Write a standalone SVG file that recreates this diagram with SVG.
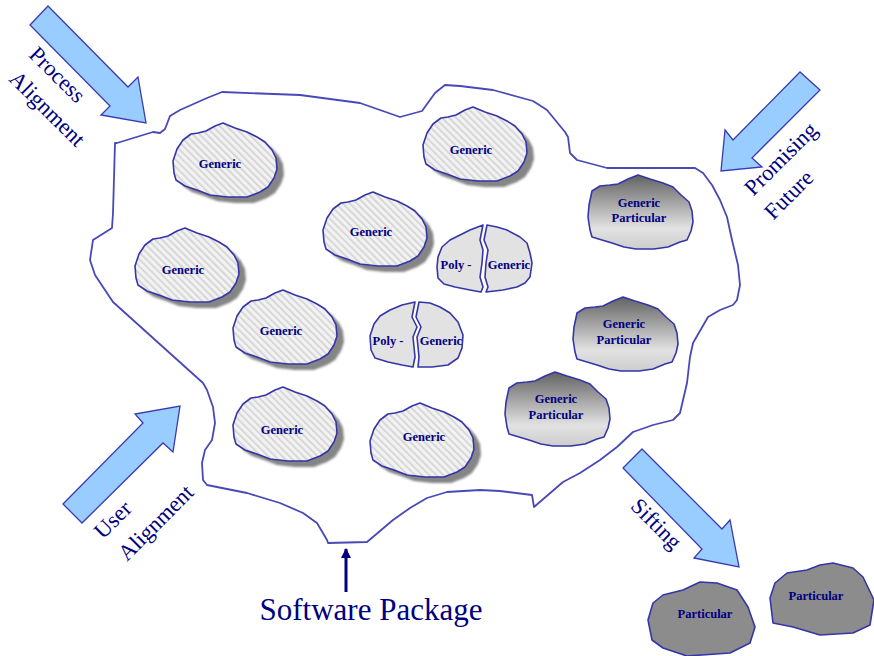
<svg xmlns="http://www.w3.org/2000/svg" width="874" height="656" viewBox="0 0 874 656">
  <style>
    .rk { stroke:#3535a8; stroke-width:1.6; stroke-linejoin:round; }
    .hatch { fill:url(#hatch); }
    .shadow { fill:#858585; filter:url(#soft); }
    .poly { fill:#e2e2e2; }
    .gp { fill:url(#gpGrad); }
    .pt { fill:#8c8c8c; }
    .rt { font-family:"Liberation Serif","Times New Roman",serif; font-weight:bold; font-size:12.5px; fill:#000080; text-anchor:middle; }
    .lb { font-family:"Liberation Serif","Times New Roman",serif; font-size:22.5px; fill:#000080; text-anchor:middle; }
    .blk { fill:#99ccff; stroke:#3a3ab0; stroke-width:1.3; stroke-linejoin:miter; }
    .pkg { fill:none; stroke:#4848b8; stroke-width:1.8; stroke-linejoin:round; }
  </style>
  <defs>
    <pattern id="hatch" width="5" height="5" patternUnits="userSpaceOnUse" patternTransform="rotate(-45)">
      <rect width="5" height="5" fill="#f2f2f2"/>
      <rect width="1.6" height="5" fill="#d2d2d2"/>
    </pattern>
    <linearGradient id="gpGrad" x1="0" y1="0" x2="0" y2="1">
      <stop offset="0" stop-color="#626262"/>
      <stop offset="0.72" stop-color="#e2e2e2"/>
      <stop offset="1" stop-color="#cdcdcd"/>
    </linearGradient>
    <filter id="soft" x="-10%" y="-10%" width="120%" height="120%">
      <feGaussianBlur stdDeviation="0.8"/>
    </filter>
    <path id="rock" d="M0,38 L1,50 L3,57 L12,63 L24,67 L37,72 L55,74 L74,74 L87,69 L95,64 L101,55 L104,46 L103,35 L99,27 L92,19 L84,14 L74,9 L62,5 L50,0 L42,3 L33,8 L25,10 L18,11 L10,17 L4,26 Z"/>
    <path id="grock" d="M4,16 L1,30 L0,42 L2,55 L4,62 L14,65 L24,68 L36,72 L48,74 L66,74 L80,72 L92,67 L99,65 L103,56 L105,47 L104,36 L101,27 L93,20 L85,12 L75,8 L62,4 L50,0 L40,4 L30,9 L22,10 L12,11 Z"/>
    <marker id="upHead" viewBox="0 0 10 10" refX="9" refY="5" markerWidth="10" markerHeight="10" markerUnits="userSpaceOnUse" orient="auto">
      <path d="M0,0 L10,5 L0,10 Z" fill="#000080"/>
    </marker>
  </defs>

  <rect width="874" height="656" fill="#ffffff"/>

  <!-- software package boundary -->
  <g id="package">
    <path class="pkg" d="M117,143 L153,132 L160,133 L165,129 L170,116 L180,110 L207,98 L222,92 L300,95 L360,103 L400,117 L422,111 L435,93 L445,85 L460,86 L493,90 L533,101 L547,110 L565,132 L568,137 L570,153 L577,160 L607,168 L695,168 L703,173 L712,185 L720,200 L727,217 L732,240 L738,265 L740,285 L737,300 L733,305 L720,310 L708,317 L693,343 L690,357 L687,383 L680,413 L673,420 L653,425 L633,432 L617,447 L600,460 L580,473 L563,482 L534,507 L532,495 L500,491 L480,490 L447,492 L427,498 L410,508 L393,520 L367,542 L328,543 L327,540 L317,523 L303,513 L280,503 L247,493 L207,485 L203,480 L202,463 L205,450 L212,440 L215,423 L213,407 L207,390 L203,383 L163,347 L113,302 L95,275 L90,260 L93,240 L112,228 L113,213 L115,143 Z"/>
    <text class="lb" x="371" y="620" style="font-size:31px">Software Package</text>
  </g>

  <!-- generic components -->
  <g id="generic-1" transform="translate(173,123)">
    <use href="#rock" class="shadow" x="7" y="6"/>
    <use href="#rock" class="rk hatch"/>
    <text class="rt" x="47" y="45">Generic</text>
  </g>
  <g id="generic-2" transform="translate(423,107)">
    <use href="#rock" class="shadow" x="7" y="6"/>
    <use href="#rock" class="rk hatch"/>
    <text class="rt" x="48" y="47">Generic</text>
  </g>
  <g id="generic-3" transform="translate(323,192)">
    <use href="#rock" class="shadow" x="7" y="6"/>
    <use href="#rock" class="rk hatch"/>
    <text class="rt" x="48" y="44">Generic</text>
  </g>
  <g id="generic-4" transform="translate(135,228)">
    <use href="#rock" class="shadow" x="7" y="6"/>
    <use href="#rock" class="rk hatch"/>
    <text class="rt" x="48" y="46">Generic</text>
  </g>
  <g id="generic-5" transform="translate(233,290)">
    <use href="#rock" class="shadow" x="7" y="6"/>
    <use href="#rock" class="rk hatch"/>
    <text class="rt" x="48" y="45">Generic</text>
  </g>
  <g id="generic-6" transform="translate(233,387)">
    <use href="#rock" class="shadow" x="7" y="6"/>
    <use href="#rock" class="rk hatch"/>
    <text class="rt" x="49" y="47">Generic</text>
  </g>
  <g id="generic-7" transform="translate(370,403)">
    <use href="#rock" class="shadow" x="7" y="6"/>
    <use href="#rock" class="rk hatch"/>
    <text class="rt" x="54" y="38">Generic</text>
  </g>

  <!-- split poly-generic components -->
  <g id="poly-generic-1">
    <path class="rk poly" d="M483,225 L470,230 L460,235 L450,240 L442,247 L438,257 L437,267 L438,278 L444,284 L455,287 L470,290 L481,292 L483,287 L480,277 L482,263 L483,250 L480,240 Z"/>
    <path class="rk poly" d="M487,225 L497,227 L507,230 L520,237 L527,243 L530,253 L532,263 L530,277 L525,283 L517,287 L503,290 L486,292 L488,287 L485,277 L486,263 L488,250 L484,240 Z"/>
    <text class="rt" x="456" y="269">Poly -</text>
    <text class="rt" x="509" y="269">Generic</text>
  </g>
  <g id="poly-generic-2">
    <path class="rk poly" d="M415,302 L402,305 L390,310 L380,316 L374,324 L370,336 L371,350 L375,358 L388,362 L402,365 L413,367 L415,357 L413,337 L417,327 L412,317 Z"/>
    <path class="rk poly" d="M419,302 L416,317 L421,327 L417,337 L419,357 L418,367 L432,367 L448,365 L458,358 L462,348 L463,335 L458,322 L450,313 L440,307 L430,303 Z"/>
    <text class="rt" x="388" y="345">Poly -</text>
    <text class="rt" x="441" y="345">Generic</text>
  </g>

  <!-- generic-particular components -->
  <g id="generic-particular-1" transform="translate(588,175)">
    <use href="#grock" class="rk gp"/>
    <text class="rt" x="51" y="32">Generic</text>
    <text class="rt" x="51" y="47">Particular</text>
  </g>
  <g id="generic-particular-2" transform="translate(573,297)">
    <use href="#grock" class="rk gp"/>
    <text class="rt" x="51" y="31">Generic</text>
    <text class="rt" x="51" y="47">Particular</text>
  </g>
  <g id="generic-particular-3" transform="translate(505,372)">
    <use href="#grock" class="rk gp"/>
    <text class="rt" x="51" y="31">Generic</text>
    <text class="rt" x="51" y="47">Particular</text>
  </g>

  <!-- particular components -->
  <g id="particular-1">
    <path class="rk pt" d="M648,620 L652,640 L663,648 L687,656 L730,653 L750,643 L755,627 L748,607 L737,590 L717,583 L700,582 L683,590 L663,595 L653,603 Z"/>
    <text class="rt" x="705" y="618">Particular</text>
  </g>
  <g id="particular-2">
    <path class="rk pt" d="M770,598 L773,623 L793,627 L820,635 L853,633 L870,625 L874,600 L863,577 L853,568 L833,563 L820,565 L807,570 L787,573 L775,583 Z"/>
    <text class="rt" x="816" y="600">Particular</text>
  </g>

  <!-- block arrows with their labels -->
  <g id="process-alignment">
    <path class="blk" d="M48,6 L128,87 L138,77 L146,123 L101,115 L110,106 L30,25 Z"/>
    <text class="lb" transform="translate(57,75) rotate(45)" dy="7">Process</text>
    <text class="lb" transform="translate(47,109) rotate(45)" dy="7">Alignment</text>
  </g>
  <g id="promising-future">
    <path class="blk" d="M800,72 L733,140 L725,130 L721,171 L762,167 L752,158 L820,90 Z"/>
    <text class="lb" transform="translate(781,159) rotate(-45)" dy="7">Promising</text>
    <text class="lb" transform="translate(789,195) rotate(-45)" dy="7">Future</text>
  </g>
  <g id="user-alignment">
    <path class="blk" d="M63,504 L143,423 L135,414 L180,406 L173,452 L163,443 L82,523 Z"/>
    <text class="lb" transform="translate(113,520) rotate(-45)" dy="7">User</text>
    <text class="lb" transform="translate(156,523) rotate(-45)" dy="7">Alignment</text>
  </g>
  <g id="sifting">
    <path class="blk" d="M642,449 L722,529 L730,520 L739,567 L694,558 L702,549 L623,468 Z"/>
    <text class="lb" transform="translate(656,524) rotate(45)" dy="7">Sifting</text>
  </g>

  <!-- connectors -->
  <g id="connectors">
    <line x1="346" y1="592" x2="346" y2="549" stroke="#000080" stroke-width="3" marker-end="url(#upHead)"/>
  </g>
</svg>
